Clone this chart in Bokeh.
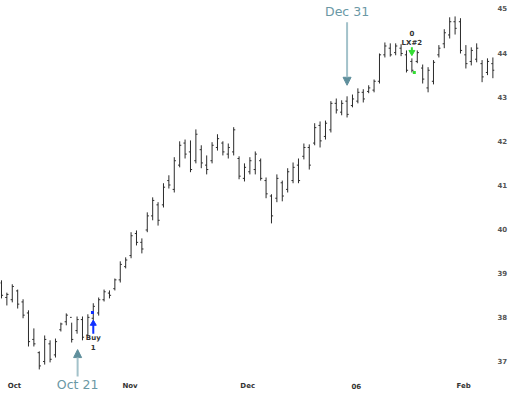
from bokeh.plotting import figure
from bokeh.models import FixedTicker, Label, Arrow, NormalHead, ColumnDataSource
from bokeh.core.properties import value
from bokeh.embed import file_html
from bokeh.resources import INLINE

# ---- data ----
highs = [38.84, 38.56, 38.75, 38.63, 38.41, 38.16, 37.75, 37.23, 37.59, 37.48,
         37.52, 37.88, 38.09, 37.88, 38.02, 38.02, 38.07, 38.32, 38.45, 38.63,
         38.61, 38.88, 39.27, 39.36, 39.93, 39.97, 39.79, 40.38, 40.72, 40.61,
         41.04, 41.22, 41.63, 41.99, 42.03, 42.01, 42.26, 41.90, 41.67, 41.97,
         42.15, 41.99, 41.94, 42.31, 41.65, 41.49, 41.63, 41.76, 41.60, 41.17,
         40.79, 41.24, 41.10, 41.38, 41.51, 41.60, 41.94, 41.92, 42.40, 42.44,
         42.46, 42.90, 42.96, 42.92, 43.01, 43.05, 43.19, 43.17, 43.26, 43.39,
         43.98, 44.23, 44.21, 44.21, 44.19, 44.05, 43.87, 44.05, 43.73, 43.67,
         43.83, 44.17, 44.53, 44.80, 44.82, 44.78, 44.17, 44.12, 44.21, 43.83,
         43.87, 43.89]
lows = [38.43, 38.27, 38.34, 38.20, 37.98, 37.34, 37.34, 36.82, 36.93, 36.98,
        37.09, 37.68, 37.82, 37.43, 37.63, 37.48, 37.57, 37.93, 38.04, 38.36,
        38.43, 38.61, 38.79, 39.11, 39.34, 39.63, 39.45, 39.93, 40.20, 40.08,
        40.49, 40.92, 40.83, 41.40, 41.60, 41.29, 41.49, 41.38, 41.24, 41.49,
        41.78, 41.67, 41.60, 41.67, 41.13, 41.08, 41.24, 41.24, 41.10, 40.70,
        40.13, 40.61, 40.63, 40.83, 41.04, 41.04, 41.58, 41.35, 41.90, 41.85,
        42.03, 42.19, 42.62, 42.58, 42.53, 42.76, 42.85, 42.87, 43.08, 43.10,
        43.30, 43.89, 43.91, 43.94, 43.92, 43.55, 43.55, 43.76, 43.30, 43.10,
        43.28, 43.89, 44.10, 44.32, 44.41, 43.98, 43.64, 43.71, 43.78, 43.33,
        43.49, 43.42]
opens = [38.78, 38.45, 38.40, 38.60, 38.35, 38.10, 37.50, 37.20, 37.00, 37.40,
         37.15, 37.72, 37.90, 38.00, 37.70, 37.95, 37.60, 37.98, 38.10, 38.40,
         38.55, 38.65, 38.85, 39.15, 39.40, 39.90, 39.70, 39.98, 40.30, 40.55,
         40.55, 41.10, 40.90, 41.45, 41.95, 41.75, 41.55, 41.80, 41.45, 41.55,
         41.85, 41.95, 41.70, 41.75, 41.60, 41.15, 41.30, 41.35, 41.55, 41.10,
         40.75, 40.70, 41.05, 40.90, 41.10, 41.45, 41.65, 41.85, 41.95, 42.35,
         42.10, 42.25, 42.85, 42.65, 42.90, 42.80, 42.90, 43.10, 43.12, 43.15,
         43.35, 43.95, 44.10, 44.00, 44.10, 43.95, 43.80, 43.80, 43.65, 43.20,
         43.35, 43.95, 44.20, 44.40, 44.70, 44.70, 43.95, 43.80, 43.85, 43.75,
         43.55, 43.75]
closes = [38.50, 38.52, 38.70, 38.30, 38.05, 37.45, 37.40, 36.90, 37.50, 37.05,
          37.45, 37.85, 38.05, 37.50, 37.95, 37.55, 38.00, 38.25, 38.40, 38.58,
          38.50, 38.85, 39.20, 39.30, 39.85, 39.70, 39.55, 40.30, 40.65, 40.20,
          40.95, 41.00, 41.55, 41.90, 41.70, 41.35, 42.15, 41.50, 41.35, 41.90,
          42.05, 41.75, 41.85, 42.25, 41.20, 41.40, 41.55, 41.70, 41.15, 40.80,
          40.30, 41.15, 40.75, 41.30, 41.40, 41.10, 41.85, 41.45, 42.30, 42.00,
          42.40, 42.85, 42.70, 42.85, 42.60, 42.95, 43.10, 42.95, 43.20, 43.35,
          43.95, 44.15, 43.95, 44.15, 43.98, 43.60, 43.60, 44.00, 43.40, 43.60,
          43.78, 44.10, 44.45, 44.70, 44.55, 44.05, 43.75, 44.05, 44.10, 43.45,
          43.80, 43.60]

month_ticks = [2.4, 23.8, 45.6, 65.7, 85.6]
month_labels = ["Oct", "Nov", "Dec", "06", "Feb"]
price_ticks = [37, 38, 39, 40, 41, 42, 43, 44, 45]
month_label_y = 36.44

# signals
buy_bar = 17
buy_arrow = (37.63, 37.91)
buy_text_y = [37.54, 37.32]
buy_dot = (16.85, 38.11)
exit_bar = 76
exit_arrow = (44.12, 43.96)
exit_text_y = [44.44, 44.21]
exit_dot = (76.45, 43.55)

# callouts
oct21 = dict(x=14.1, tip=37.27, tail=36.66, text_y=36.48)
dec31 = dict(x=64.0, tip=43.26, tail=44.69, text_y=44.94)

# ---- plot ----
idx = list(range(len(highs)))
src = ColumnDataSource(dict(
    x=idx, hi=highs, lo=lows, op=opens, cl=closes,
    xl=[i - 0.3 for i in idx], xr=[i + 0.3 for i in idx]))

p = figure(frame_width=494, frame_height=391,
           x_range=(-0.18, 91.3), y_range=(36.32, 45.181),
           y_axis_location="right", x_axis_location=None,
           output_backend="svg", toolbar_location=None,
           min_border_left=0, min_border_top=0,
           min_border_right=0, min_border_bottom=0)
p.outline_line_color = None
p.xgrid.visible = False
p.ygrid.visible = False
p.background_fill_color = "white"
p.border_fill_color = "white"

bar_col = "#2b2b2b"
p.segment(x0="x", y0="lo", x1="x", y1="hi", source=src, line_color=bar_col, line_width=1)
p.segment(x0="xl", y0="op", x1="x", y1="op", source=src, line_color=bar_col, line_width=1)
p.segment(x0="x", y0="cl", x1="xr", y1="cl", source=src, line_color=bar_col, line_width=1)

ax = p.yaxis[0]
ax.axis_line_color = None
ax.major_tick_line_color = None
ax.minor_tick_line_color = None
ax.major_tick_out = 0
ax.major_tick_in = 0
ax.major_label_text_font = "DejaVu Sans"
ax.major_label_text_font_style = "bold"
ax.major_label_text_font_size = "7px"
ax.ticker = FixedTicker(ticks=price_ticks)
ax.major_label_text_color = "#555555"
ax.major_label_standoff = 3

# month labels along the bottom
p.text(x=month_ticks, y=[month_label_y] * len(month_ticks), text=month_labels,
       text_align="center", text_baseline="middle",
       text_font=value("DejaVu Sans"), text_font_style="bold",
       text_font_size="7px", text_color="#333333")

# buy signal
p.segment(x0=[buy_bar], y0=[buy_arrow[0]], x1=[buy_bar], y1=[buy_arrow[1] - 0.08],
          line_color="#1030ff", line_width=2)
p.scatter(x=[buy_bar], y=[buy_arrow[1] - 0.05], marker="triangle", size=6,
          fill_color="#1030ff", line_color="#1030ff")
p.scatter(x=[buy_dot[0]], y=[buy_dot[1]], marker="square", size=3,
          fill_color="#1030ff", line_color=None)
p.text(x=[buy_bar] * 2, y=buy_text_y, text=["Buy", "1"], text_align="center",
       text_baseline="middle", text_font=value("DejaVu Sans"),
       text_font_style="bold", text_font_size="7px", text_color="#333333")

# exit signal
p.segment(x0=[exit_bar], y0=[exit_arrow[0]], x1=[exit_bar], y1=[exit_arrow[1] + 0.08],
          line_color="#33dd33", line_width=2)
p.scatter(x=[exit_bar], y=[exit_arrow[1] + 0.05], marker="inverted_triangle", size=6,
          fill_color="#33dd33", line_color="#33dd33")
p.scatter(x=[exit_dot[0]], y=[exit_dot[1]], marker="square", size=3,
          fill_color="#33dd33", line_color=None)
p.text(x=[exit_bar] * 2, y=exit_text_y, text=["0", "LX#2"], text_align="center",
       text_baseline="middle", text_font=value("DejaVu Sans"),
       text_font_style="bold", text_font_size="7px", text_color="#333333")

# callouts
for c, txt in ((oct21, "Oct 21"), (dec31, "Dec 31")):
    p.add_layout(Arrow(x_start=c["x"], y_start=c["tail"], x_end=c["x"], y_end=c["tip"],
                       line_color="#a3c2ca", line_width=2,
                       end=NormalHead(size=8, fill_color="#5f8f9c", line_color="#5f8f9c")))
    p.add_layout(Label(x=c["x"], y=c["text_y"], text=txt, text_align="center",
                       text_baseline="middle", text_font="DejaVu Sans",
                       text_font_size="12.5px", text_color="#6a98a5"))

open("out.html", "w").write(file_html(p, INLINE))
